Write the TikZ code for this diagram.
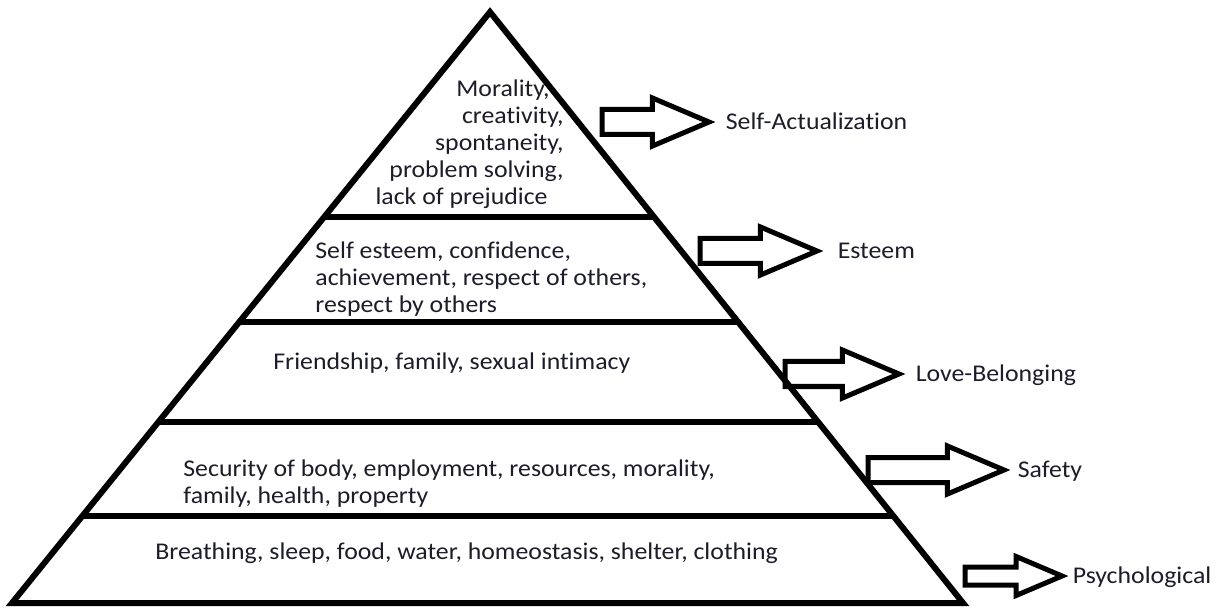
\documentclass[tikz,border=0pt]{standalone}
\usepackage{fontspec}
\setmainfont{Carlito}[FakeStretch=1.075,Ligatures=NoCommon]
\usetikzlibrary{shapes.arrows,positioning,calc}
\definecolor{ink}{RGB}{28,28,42}
\newcommand\tierfont{\fontsize{12}{13.6}\selectfont}

\begin{document}
\begin{tikzpicture}[x=0.5pt,y=-0.5pt,line join=miter]
		\tikzstyle{tierline}=[line width=3pt]
		\tikzstyle{need}=[single arrow,draw,line width=2.5pt,inner xsep=0pt,
			inner ysep=5pt,single arrow head extend=5.75pt,
			single arrow tip angle=46,anchor=tail]
		\tikzstyle{tier}=[text=ink,font=\tierfont,inner sep=0pt]
		\tikzstyle{needname}=[tier,text height=7.7pt,text depth=0pt]
		
		\useasboundingbox (0,0) rectangle (1218,608);
		
		% pyramid
		\coordinate (apex) at (490,12);
		\coordinate (bl) at (12,603);
		\coordinate (br) at (963,603);
		\draw[tierline] (apex) -- (bl) -- (br) -- cycle;
		\foreach \t in {0.347,0.5245,0.694,0.853}
			\draw[tierline] ($(apex)!\t!(bl)$) -- ($(apex)!\t!(br)$);
		
		% contents of the tiers
		\node[tier,align=right,anchor=north east] (t5) at (564,79)
			{Morality,\hspace*{7pt}\\creativity,\hspace*{8pt}\\spontaneity,\hspace*{5.5pt}\\problem solving,\\lack of prejudice\hspace*{8pt}};
		\node[tier,align=left,anchor=north west] (t4) at (315,241)
			{Self esteem, confidence,\\achievement, respect of others,\\respect by others};
		\node[tier,anchor=north west] (t3) at (273,352)
			{Friendship, family, sexual intimacy};
		\node[tier,align=left,anchor=north west] (t2) at (183,459)
			{Security of body, employment, resources, morality,\\family, health, property};
		\node[tier,anchor=north west] (t1) at (155,542)
			{Breathing, sleep, food, water, homeostasis, shelter, clothing};
		
		% arrows and names of the needs
		\node[need,minimum height=53.5pt] (a5) at (599.5,122) {};
		\node[need,minimum height=58.5pt] (a4) at (697.5,251) {};
		\node[need,minimum height=57pt] (a3) at (782.5,374) {};
		\node[need,minimum height=68pt] (a2) at (865.5,470) {};
		\node[need,minimum height=48.5pt,inner ysep=3.25pt,
			single arrow head extend=5.25pt] (a1) at (962.5,576) {};
		
		\node[needname,right=5pt of a5.tip] (n5) {Self-Actualization};
		\node[needname,right=7pt of a4.tip] (n4) {Esteem};
		\node[needname,right=5pt of a3.tip] (n3) {Love-Belonging};
		\node[needname,right=3.5pt of a2.tip] (n2) {Safety};
		\node[needname,right=2pt of a1.tip] (n1) {Psychological};
\end{tikzpicture}
\end{document}
